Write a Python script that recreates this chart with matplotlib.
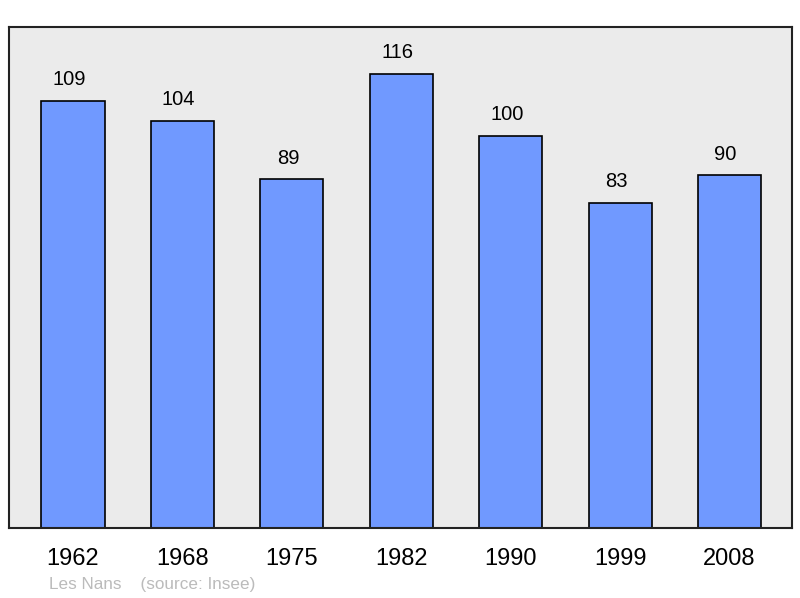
import matplotlib.pyplot as plt
import numpy as np

years = ["1962", "1968", "1975", "1982", "1990", "1999", "2008"]
population = [109, 104, 89, 116, 100, 83, 90]
place = "Les Nans"
source = "(source: Insee)"

plt.rcParams['font.family'] = ['Liberation Sans', 'DejaVu Sans']

fig = plt.figure(figsize=(8, 5.98), dpi=100)
ax = fig.add_axes([9 / 800, 70 / 598, 783 / 800, 501 / 598])
ax.set_facecolor('#ebebeb')

x = np.arange(len(years))
bars = ax.bar(x, population, width=0.576, color='#7099ff', edgecolor='black', linewidth=1.2, zorder=2)

# the value labels sit a little left of the bar centre in the original
for xi, v in zip(x, population):
    ax.annotate(str(v), (xi, v), xytext=(-2.8, 8.5), textcoords='offset points',
                ha='center', va='bottom', fontsize=14.5)

ax.set_xlim(-0.585, len(years) - 1 + 0.571)
ax.set_ylim(0, 127.9)
ax.set_yticks([])
ax.set_xticks(x)
ax.set_xticklabels(years, fontsize=17)
ax.tick_params(axis='x', length=0, pad=14.5)
for s in ax.spines.values():
    s.set_linewidth(1.5)
    s.set_color('#222222')

fig.text(49 / 800, 1 - 584 / 598, place + "    " + source, color='#bbbbbb',
         fontsize=12.3, ha='left', va='center')

fig.savefig('out.png', dpi=100)
